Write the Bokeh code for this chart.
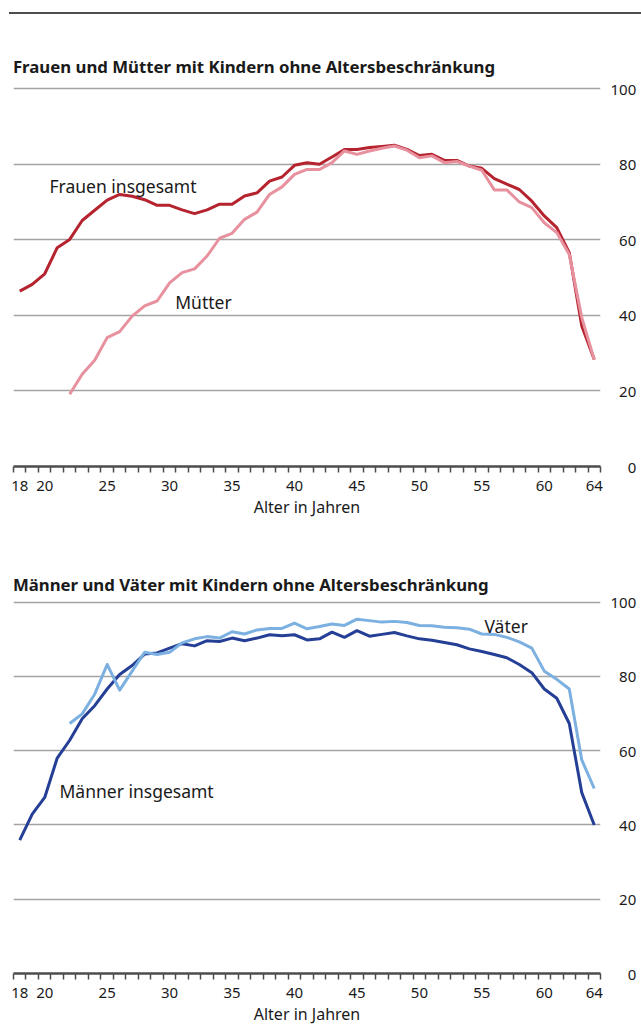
from bokeh.plotting import figure
from bokeh.models import Range1d, FixedTicker, Label, Spacer
from bokeh.layouts import column, row
from bokeh.embed import file_html
from bokeh.resources import INLINE

# ---------------- data ----------------
ages = list(range(18, 65))
ages_parents = list(range(22, 65))

frauen = [46.4, 48.2, 51.0, 57.9, 60.1, 65.1, 67.8, 70.5, 72.0, 71.5,
          70.6, 69.1, 69.1, 67.9, 66.9, 67.9, 69.4, 69.4, 71.6, 72.4,
          75.5, 76.6, 79.7, 80.4, 80.0, 81.9, 83.9, 83.9, 84.4, 84.7,
          85.0, 83.9, 82.3, 82.6, 81.0, 81.0, 79.5, 78.9, 76.2, 74.7,
          73.3, 70.2, 66.3, 63.2, 56.6, 37.2, 28.3]
muetter = [19.1, 24.4, 28.1, 34.1, 35.7, 39.8, 42.5, 43.8, 48.6, 51.3,
           52.3, 55.7, 60.4, 61.7, 65.4, 67.3, 72.0, 74.0, 77.3, 78.6,
           78.6, 80.4, 83.5, 82.6, 83.5, 84.2, 84.8, 83.7, 81.7, 82.2,
           80.4, 80.7, 79.5, 78.4, 73.2, 73.2, 70.0, 68.5, 64.5, 61.9,
           56.1, 39.4, 28.3]
maenner = [35.9, 42.9, 47.4, 58.0, 62.8, 68.6, 72.1, 76.6, 80.5, 82.9,
           86.0, 86.3, 87.6, 88.8, 88.2, 89.6, 89.4, 90.3, 89.6, 90.3,
           91.2, 90.9, 91.2, 89.8, 90.1, 91.9, 90.5, 92.3, 90.8, 91.3,
           91.8, 90.9, 90.1, 89.7, 89.1, 88.5, 87.4, 86.7, 85.9, 85.0,
           83.2, 81.0, 76.6, 74.1, 67.3, 48.7, 40.0]
vaeter = [67.3, 69.9, 75.2, 83.2, 76.3, 81.4, 86.5, 85.9, 86.5, 89.0,
          90.1, 90.7, 90.3, 92.0, 91.4, 92.5, 92.9, 92.9, 94.3, 92.8,
          93.4, 94.1, 93.7, 95.4, 95.0, 94.6, 94.8, 94.5, 93.7, 93.6,
          93.2, 93.1, 92.7, 91.4, 91.3, 90.5, 89.3, 87.6, 81.4, 79.2,
          76.6, 57.5, 49.8]

x_tick_labels = [18, 20, 25, 30, 35, 40, 45, 50, 55, 60, 64]
y_ticks = [0, 20, 40, 60, 80, 100]

title_top = "Frauen und Mütter mit Kindern ohne Altersbeschränkung"
title_bottom = "Männer und Väter mit Kindern ohne Altersbeschränkung"
x_title = "Alter in Jahren"

# ---------------- styling / layout ----------------
FONT = "Noto Sans"
TXT = "#1a1a1a"
AXIS = "#4d4d4d"
GRID = "#a3a3a3"
W = 641
LEFT = 13
FRAME_W = 587
RIGHT = W - LEFT - FRAME_W
FS = "\u2007"  # figure space, pads labels so they end flush right


def make_chart(height, top, frame_h, bottom, px_per_unit, title, title_y,
               series, notes):
    y_end = frame_h / px_per_unit
    p = figure(width=W, height=height,
               x_range=Range1d(17.5, 64.5), y_range=Range1d(0, y_end),
               output_backend="svg", toolbar_location=None,
               y_axis_location="right",
               min_border_left=LEFT, min_border_right=RIGHT,
               min_border_top=top, min_border_bottom=bottom)
    p.outline_line_color = None
    p.xgrid.visible = False
    p.ygrid.grid_line_color = GRID
    p.ygrid.grid_line_width = 1.5

    xa = p.xaxis[0]
    xa.ticker = FixedTicker(ticks=x_tick_labels,
                            minor_ticks=[a - 0.5 for a in ages] + [ages[-1] + 0.5])
    xa.major_tick_line_color = None
    xa.major_tick_out = 0
    xa.major_tick_in = 0
    xa.minor_tick_in = 0
    xa.minor_tick_out = 6
    xa.minor_tick_line_color = AXIS
    xa.minor_tick_line_width = 1.5
    xa.axis_line_color = AXIS
    xa.axis_line_width = 2.5
    xa.major_label_text_font = FONT
    xa.major_label_text_font_size = "15px"
    xa.major_label_text_color = TXT
    xa.major_label_standoff = 8
    xa.axis_label = x_title
    xa.axis_label_text_font = FONT
    xa.axis_label_text_font_size = "16px"
    xa.axis_label_text_font_style = "normal"
    xa.axis_label_text_color = TXT
    xa.axis_label_standoff = 2

    ya = p.yaxis[0]
    ya.ticker = FixedTicker(ticks=y_ticks)
    ya.axis_line_color = None
    ya.major_tick_line_color = None
    ya.minor_tick_line_color = None
    ya.major_tick_out = 0
    ya.major_tick_in = 0
    ya.major_label_standoff = 10
    ya.major_label_text_font = FONT
    ya.major_label_text_font_size = "15px"
    ya.major_label_text_color = TXT
    ya.major_label_overrides = {t: FS * (3 - len(str(t))) + str(t) for t in y_ticks}

    for xs, ys, color in series:
        p.line(xs, ys, line_color=color, line_width=3, line_join="round")

    p.add_layout(Label(x=17.45, y=title_y, text=title, text_font=FONT,
                       text_font_size="16.8px", text_font_style="bold",
                       text_color=TXT, text_baseline="alphabetic"))
    for tx, ty, txt in notes:
        p.add_layout(Label(x=tx, y=ty, text=txt, text_font=FONT,
                           text_font_size="17.5px", text_color=TXT,
                           text_baseline="alphabetic"))
    return p


# thin dark rule across the top of the page (starts 9px in)
rule = row(Spacer(width=9, height=2),
           Spacer(width=W - 9, height=2, styles={"background-color": AXIS}))

p1 = make_chart(537, 25, 427, 85, 3.779, title_top, 105.8,
                [(ages, frauen, "#b5232f"), (ages_parents, muetter, "#e8919e")],
                [(20.38, 74.3, "Frauen insgesamt"), (30.45, 43.4, "Mütter")])

p2 = make_chart(476, 14, 414, 48, 3.769, title_bottom, 104.7,
                [(ages, maenner, "#243f95"), (ages_parents, vaeter, "#7cb0e0")],
                [(21.18, 49.0, "Männer insgesamt"), (55.21, 93.6, "Väter")])

layout = column(Spacer(width=W, height=12), rule, p1, p2)
open("out.html", "w").write(file_html(layout, INLINE))
